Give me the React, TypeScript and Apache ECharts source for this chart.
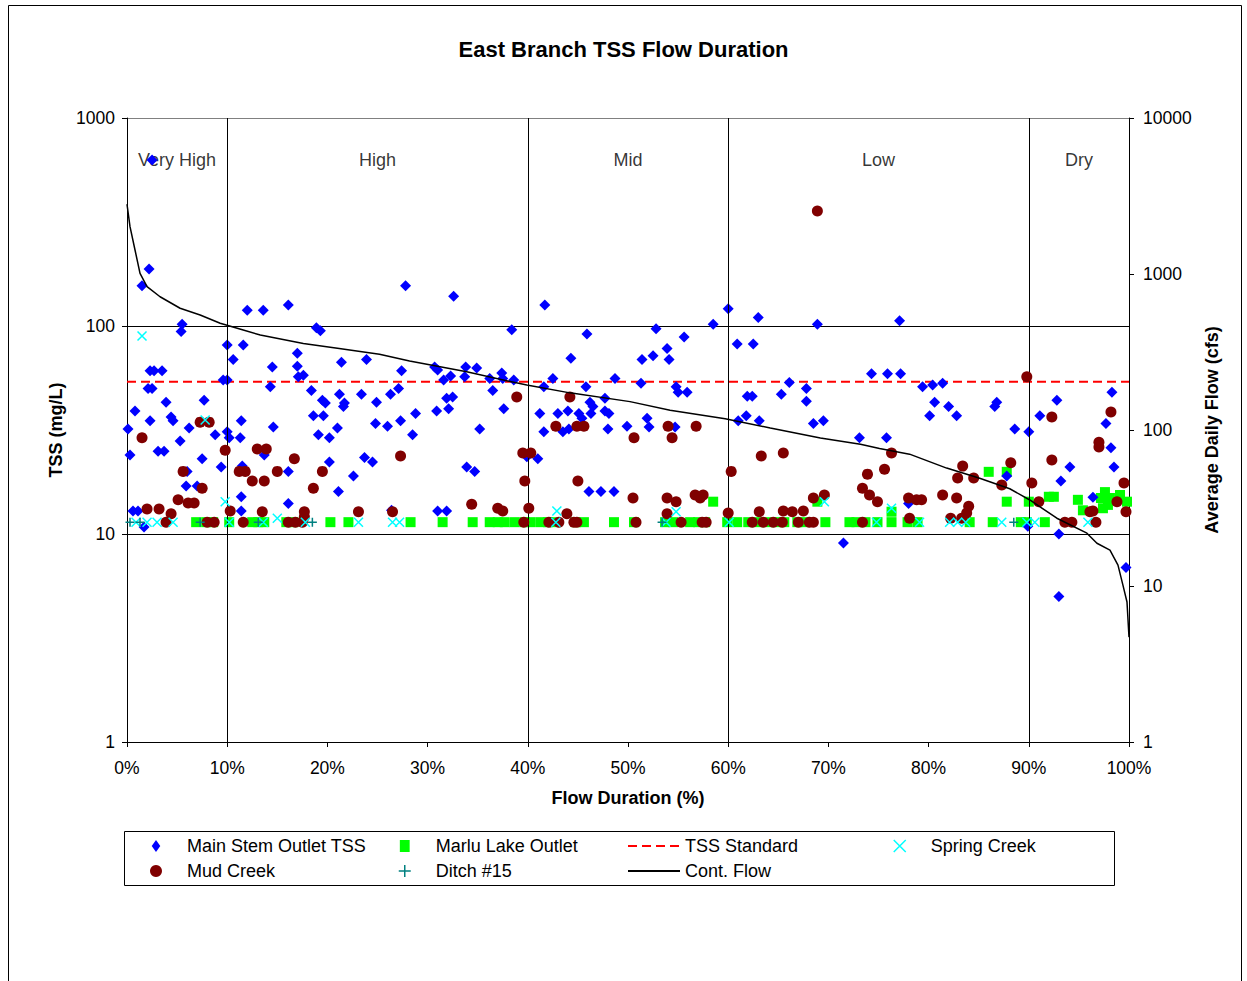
import React, { useEffect, useRef } from "react";
import * as echarts from "echarts";

const FONT = "'Liberation Sans', Arial, Helvetica, sans-serif";

// Flow regime zones (percent of time flow is exceeded)
const zoneNames = ["Very High", "High", "Mid", "Low", "Dry"];
const zoneCenters = [5, 25, 50, 75, 95];
const zoneBreaks = [10, 40, 60, 90];
const zoneLabelLevel = 630;

// TSS water quality standard, mg/L
const tssStandard = 54;

// [flow duration %, TSS mg/L]
const mainStemTss: number[][] = [
  [2.5, 628], [2.2, 188], [1.5, 156], [5.5, 102], [5.4, 94], [12.0, 119], [13.6, 119], [16.1, 126], [18.9, 98], [19.3, 95], [27.8, 156],
  [10.0, 81], [11.6, 81], [10.6, 69], [14.5, 63.5], [17.0, 74], [17.0, 64], [17.1, 57], [17.6, 58], [21.4, 67], [23.9, 69],
  [2.3, 61], [2.7, 61], [3.5, 61], [9.6, 55], [10.0, 55], [2.1, 50], [2.5, 50], [14.3, 51], [18.4, 49], [3.9, 43], [7.7, 44], [0.8, 39],
  [19.5, 44], [19.8, 42.6], [21.2, 47], [23.4, 47], [21.6, 41], [21.7, 42.6], [24.9, 43], [4.4, 36.5], [4.6, 35], [2.3, 35], [0.1, 32],
  [6.2, 32.3], [11.4, 35], [14.6, 32.7], [18.6, 37], [19.6, 37], [24.8, 34], [8.8, 30], [10.0, 31], [10.2, 29], [11.3, 29], [19.1, 30],
  [20.2, 29], [21.0, 32.3], [5.3, 28], [0.3, 24], [3.1, 25], [3.7, 25], [7.5, 23], [13.7, 24], [9.4, 21], [11.5, 21.2], [6.0, 20],
  [16.1, 20], [20.2, 22.2], [23.7, 23.3], [24.5, 22.2], [22.6, 19], [5.9, 17], [7.0, 17], [21.1, 16], [11.4, 15.1], [16.1, 14],
  [0.6, 12.9], [1.1, 12.9], [11.4, 12.9], [1.7, 10.8],
  [32.6, 139], [41.7, 126], [38.4, 96], [45.9, 91.5], [44.3, 70], [27.4, 61], [30.7, 63.5], [31.0, 61.4], [33.8, 63.5], [34.9, 62.8],
  [33.7, 57], [31.6, 55], [32.3, 57.5], [36.2, 56], [37.4, 59.4], [37.5, 56], [38.6, 55], [42.5, 56], [48.7, 56], [27.1, 50], [26.3, 47],
  [36.5, 49], [41.6, 51], [45.8, 51], [31.9, 45], [32.5, 45.6], [32.1, 40], [30.9, 39], [28.8, 38], [37.6, 40], [41.2, 38], [43.0, 38],
  [44.0, 39], [45.1, 38], [45.4, 36], [46.2, 43], [46.5, 41], [46.3, 38], [47.7, 45], [47.7, 39], [48.1, 38], [27.3, 35], [26.0, 33],
  [28.5, 30], [35.2, 32], [41.6, 31], [43.5, 31], [44.1, 32], [48.0, 32], [49.9, 33], [33.9, 21], [34.7, 20], [39.9, 23.5], [41.0, 23],
  [46.1, 16], [47.3, 16], [48.6, 16], [26.4, 13], [31.0, 12.9], [31.9, 12.9],
  [60.0, 121], [63.0, 110], [58.5, 102], [68.9, 102], [52.8, 97], [55.6, 88.5], [60.9, 82], [62.5, 82], [53.9, 78], [52.5, 72],
  [51.4, 69], [54.1, 69], [51.3, 53], [54.8, 51], [55.0, 48], [55.9, 48], [66.1, 53.5], [65.3, 47], [61.9, 46], [62.4, 46], [67.8, 50],
  [67.8, 43.5], [74.3, 59], [61.8, 37], [61.0, 35], [63.1, 35], [68.5, 34], [69.5, 35], [51.9, 36], [52.1, 32.7], [54.7, 32.7],
  [73.1, 29], [71.5, 9.05],
  [77.1, 106], [75.9, 59], [77.2, 59], [79.4, 51], [80.4, 52], [81.4, 53], [80.6, 43], [82.0, 41], [80.1, 37], [82.8, 37], [86.6, 41],
  [86.8, 43], [75.8, 29], [88.6, 32], [90.0, 31], [91.1, 37], [92.8, 44], [98.3, 48], [97.7, 34], [98.2, 26], [98.5, 21], [94.1, 21],
  [93.2, 18], [78.0, 14], [96.4, 15], [87.8, 19], [89.9, 10.9], [93.0, 10], [93.0, 5], [99.7, 6.9],
];

const mudCreek: number[][] = [
  [68.9, 357], [1.5, 29], [7.3, 34.5], [8.2, 34.5], [9.8, 25.3], [13.0, 25.6], [13.9, 25.6], [16.7, 23], [5.6, 20], [11.2, 20],
  [11.8, 20], [12.5, 18], [13.7, 18], [15.0, 20], [19.5, 20], [7.5, 16.6], [18.6, 16.6], [5.1, 14.6], [6.1, 14.1], [6.7, 14.1],
  [2.0, 13.2], [3.2, 13.2], [4.4, 12.5], [3.9, 11.4], [10.3, 12.9], [13.5, 12.8], [17.7, 12.8], [17.7, 12.1], [23.1, 12.8], [8.0, 11.4],
  [8.7, 11.4], [11.6, 11.4], [16.1, 11.4], [16.8, 11.4], [17.5, 11.4], [27.3, 23.7], [26.5, 12.8], [38.9, 45.6], [44.2, 45.6],
  [42.8, 33], [44.9, 33], [45.6, 33], [39.5, 24.5], [40.3, 24.5], [39.7, 18], [45.0, 18], [34.4, 13.9], [37.0, 13.3], [37.5, 12.9],
  [40.1, 13.3], [43.9, 12.5], [39.6, 11.4], [42.1, 11.4], [43.1, 11.4], [44.6, 11.4], [44.9, 11.4], [50.6, 29], [50.5, 14.9],
  [50.8, 11.4], [54.0, 33], [54.4, 29], [56.8, 33], [60.3, 20], [60.0, 12.6], [53.9, 14.9], [54.8, 14.3], [53.9, 12.5], [55.3, 11.4],
  [56.7, 15.4], [57.5, 15.4], [57.2, 14.9], [57.4, 11.4], [57.8, 11.4], [63.3, 23.7], [65.5, 24.5], [63.1, 12.8], [65.5, 12.9],
  [66.4, 12.8], [67.5, 12.9], [68.5, 14.9], [69.6, 15.4], [62.4, 11.4], [63.5, 11.4], [64.5, 11.4], [65.4, 11.4], [67.0, 11.4],
  [68.1, 11.4], [68.5, 11.4], [73.4, 11.4], [73.9, 19.4], [73.4, 16.6], [74.1, 15.4], [74.9, 14.3], [76.3, 24.5], [75.6, 20.5],
  [83.4, 21.2], [82.9, 18.6], [84.5, 18.6], [88.2, 22], [87.3, 17.2], [90.3, 17.6], [81.4, 15.4], [82.8, 14.9], [78.0, 14.9],
  [78.8, 14.6], [79.3, 14.6], [84.0, 13.6], [83.8, 12.6], [83.3, 11.9], [82.2, 11.9], [78.1, 11.9], [91.0, 14.3], [89.8, 57],
  [92.3, 36.5], [98.2, 38.6], [97.0, 27.6], [97.0, 26.2], [92.3, 22.7], [98.8, 14.3], [99.5, 17.6], [99.7, 12.8], [96.1, 12.8],
  [96.4, 12.9], [96.7, 11.4], [93.6, 11.4], [94.3, 11.4],
];

const marluLakeOutlet: number[][] = [
  [6.9, 11.4], [7.9, 11.4], [8.6, 11.4], [10.2, 11.4], [12.5, 11.4], [13.1, 11.4], [13.7, 11.4], [15.9, 11.4], [16.6, 11.4],
  [20.3, 11.4], [22.1, 11.4], [28.3, 11.4], [31.5, 11.4], [34.5, 11.4], [36.2, 11.4], [37.0, 11.4], [37.7, 11.4], [38.7, 11.4],
  [39.7, 11.4], [40.3, 11.4], [41.3, 11.4], [42.0, 11.4], [42.7, 11.4], [44.8, 11.4], [45.6, 11.4], [48.6, 11.4], [50.6, 11.4],
  [53.7, 11.4], [54.5, 11.4], [56.2, 11.4], [57.0, 11.4], [57.7, 11.4], [59.9, 11.4], [60.9, 11.4], [62.0, 11.4], [62.9, 11.4],
  [63.9, 11.4], [64.8, 11.4], [65.6, 11.4], [66.9, 11.4], [67.6, 11.4], [69.7, 11.4], [72.1, 11.4], [72.8, 11.4], [73.7, 11.4],
  [74.9, 11.4], [76.3, 11.4], [77.9, 11.4], [78.9, 11.4], [84.1, 11.4], [86.4, 11.4], [89.2, 11.4], [89.8, 11.4], [91.6, 11.4],
  [58.5, 14.3], [68.9, 14.3], [76.3, 12.8], [86.0, 19.9], [87.8, 19.9], [87.8, 14.3], [90.0, 14.3], [92.0, 15.1], [92.5, 15.1],
  [94.9, 14.6], [95.4, 13.0], [97.2, 14.9], [97.6, 15.9], [97.9, 13.8], [98.1, 14.9], [97.4, 13.3], [99.1, 15.4], [99.8, 14.3],
];

const springCreek: number[][] = [
  [1.5, 89.5], [0.9, 11.4], [2.0, 11.4], [3.0, 11.4], [4.6, 11.4], [10.2, 11.4], [13.6, 11.4], [17.8, 11.4], [23.1, 11.4],
  [26.5, 11.4], [27.2, 11.4], [42.8, 11.4], [53.8, 11.4], [60.1, 11.4], [74.8, 11.4], [79.1, 11.4], [82.1, 11.4], [82.9, 11.4],
  [83.7, 11.4], [87.3, 11.4], [89.8, 11.4], [90.6, 11.4], [95.9, 11.4], [7.8, 35.3], [9.8, 14.3], [15.0, 11.9], [42.9, 12.9],
  [54.8, 12.8], [69.6, 14.3], [76.3, 13.3],
];

const ditch15: number[][] = [
  [0.3, 11.4], [1.3, 11.4], [7.3, 11.4], [13.1, 11.4], [18.5, 11.4], [53.4, 11.4], [88.5, 11.4],
];

// [flow duration %, average daily flow cfs]
const contFlow: number[][] = [
  [0, 2800], [0.3, 2010], [0.8, 1425], [1.3, 1010], [2.0, 829], [3.3, 715], [5.3, 603], [7.3, 546], [9.3, 483], [11.6, 437],
  [13.3, 406], [17.6, 359], [21.0, 334], [25.2, 306], [28.2, 277], [33.9, 236], [39.9, 194], [44.2, 173], [50.2, 152], [54.2, 134],
  [59.7, 118], [64.2, 103], [69.2, 89], [73.2, 81], [75.1, 76], [78.1, 70], [81.8, 57], [85.1, 49], [88.1, 42], [90.1, 35.6],
  [92.8, 27.2], [95.8, 21.8], [96.8, 18.8], [98.1, 17], [98.9, 13.6], [99.4, 10.1], [99.8, 7.9], [100, 4.7],
];

const xMark = "path://M0,0L10,10M10,0L0,10";
const plusMark = "path://M5,0L5,10M0,5L10,5";
// legend-only shapes, kept at their own aspect ratio inside the icon box
const diamondIcon = "path://M5,0L10,7L5,14L0,7Z";
const squareIcon = "path://M0,0L9,0L9,11L0,11Z";

const legendText = { fontFamily: FONT, fontSize: 18, color: "#000" };
// line entries show the stroke only, without a marker in the middle
const hiddenMarker = { opacity: 0, borderWidth: 0 };

function makeLegend(left: number, data: any[]) {
  return {
    orient: "vertical",
    left,
    top: 832,
    itemGap: 7,
    itemWidth: 52,
    itemHeight: 12,
    symbolKeepAspect: true,
    selectedMode: false,
    textStyle: legendText,
    data,
  };
}

const plainNumber = (v: number) => String(v);

export default function App() {
  const ref = useRef<HTMLDivElement>(null);

  useEffect(() => {
    if (!ref.current) return;
    const chart = echarts.init(ref.current, undefined, { renderer: "svg" });

    const axisLabelStyle = { fontFamily: FONT, fontSize: 17.5, color: "#000" };
    const nameStyle = { fontFamily: FONT, fontSize: 18, fontWeight: "bold", color: "#000" };

    chart.setOption({
      animation: false,
      backgroundColor: "#fff",
      textStyle: { fontFamily: FONT },
      title: {
        text: "East Branch TSS Flow Duration",
        left: "center",
        top: 33,
        textStyle: { fontFamily: FONT, fontSize: 22, fontWeight: "bold", color: "#000" },
      },
      grid: { left: 127, right: 118, top: 118, bottom: 239 },
      legend: [
        makeLegend(145, [
          { name: "Main Stem Outlet TSS", icon: diamondIcon },
          { name: "Mud Creek", icon: "circle" },
        ]),
        makeLegend(393, [
          { name: "Marlu Lake Outlet", icon: squareIcon },
          { name: "Ditch #15", itemStyle: { borderWidth: 1.5 } },
        ]),
        makeLegend(622, [
          { name: "TSS Standard", itemStyle: hiddenMarker },
          { name: "Cont. Flow", itemStyle: hiddenMarker },
        ]),
        makeLegend(888, [{ name: "Spring Creek", itemStyle: { borderWidth: 1.5 } }]),
      ],
      xAxis: {
        type: "value",
        min: 0,
        max: 100,
        interval: 10,
        name: "Flow Duration (%)",
        nameLocation: "middle",
        nameGap: 47,
        nameTextStyle: nameStyle,
        axisLine: { show: true, lineStyle: { color: "#000", width: 1 } },
        axisTick: { show: true, length: 5, lineStyle: { color: "#000" } },
        axisLabel: { ...axisLabelStyle, margin: 17, formatter: "{value}%" },
        splitLine: { show: false },
      },
      yAxis: [
        {
          type: "log",
          logBase: 10,
          min: 1,
          max: 1000,
          name: "TSS (mg/L)",
          nameLocation: "middle",
          nameRotate: 90,
          nameGap: 61,
          nameTextStyle: nameStyle,
          axisLine: { show: true, lineStyle: { color: "#000", width: 1 } },
          axisTick: { show: true, length: 5, lineStyle: { color: "#000" } },
          axisLabel: { ...axisLabelStyle, margin: 12, formatter: plainNumber },
          minorTick: { show: false },
          splitLine: { show: true, lineStyle: { color: ["#000", "#000", "#000", "#808080"], width: 1 } },
        },
        {
          type: "log",
          logBase: 10,
          min: 1,
          max: 10000,
          position: "right",
          name: "Average Daily Flow (cfs)",
          nameLocation: "middle",
          nameRotate: 90,
          nameGap: 61,
          nameTextStyle: nameStyle,
          axisLine: { show: true, lineStyle: { color: "#000", width: 1 } },
          axisTick: { show: true, length: 5, lineStyle: { color: "#000" } },
          axisLabel: { ...axisLabelStyle, margin: 14, formatter: plainNumber },
          splitLine: { show: false },
        },
      ],
      series: [
        {
          name: "zones",
          type: "scatter",
          silent: true,
          symbolSize: 1,
          itemStyle: { color: "rgba(0,0,0,0)" },
          data: zoneNames.map((n, i) => ({ name: n, value: [zoneCenters[i], zoneLabelLevel] })),
          label: {
            show: true,
            position: "inside",
            formatter: "{b}",
            fontFamily: FONT,
            fontSize: 18,
            color: "#000",
          },
          markLine: {
            silent: true,
            symbol: ["none", "none"],
            label: { show: false },
            lineStyle: { color: "#000", type: "solid", width: 1 },
            data: zoneBreaks.map((v) => ({ xAxis: v })),
          },
          z: 1,
        },
        {
          name: "Marlu Lake Outlet",
          type: "scatter",
          symbol: "rect",
          symbolSize: 10,
          itemStyle: { color: "#00FF00", opacity: 1 },
          data: marluLakeOutlet,
          z: 2,
        },
        {
          name: "TSS Standard",
          type: "line",
          symbol: "none",
          data: [[0, tssStandard], [100, tssStandard]],
          lineStyle: { color: "#FF0000", width: 2, type: [9, 5] },
          itemStyle: { color: "#FF0000" },
          z: 3,
        },
        {
          name: "Main Stem Outlet TSS",
          type: "scatter",
          symbol: "diamond",
          symbolSize: 11,
          itemStyle: { color: "#0000FF", opacity: 1 },
          data: mainStemTss,
          z: 4,
        },
        {
          name: "Mud Creek",
          type: "scatter",
          symbol: "circle",
          symbolSize: 11,
          itemStyle: { color: "#800000", opacity: 1 },
          data: mudCreek,
          z: 5,
        },
        {
          name: "Spring Creek",
          type: "scatter",
          symbol: xMark,
          symbolSize: 9,
          itemStyle: { color: "#00FFFF", borderColor: "#00FFFF", borderWidth: 1.5, opacity: 1 },
          data: springCreek,
          z: 6,
        },
        {
          name: "Ditch #15",
          type: "scatter",
          symbol: plusMark,
          symbolSize: 9,
          itemStyle: { color: "#008080", borderColor: "#008080", borderWidth: 1.5, opacity: 1 },
          data: ditch15,
          z: 6,
        },
        {
          name: "Cont. Flow",
          type: "line",
          yAxisIndex: 1,
          symbol: "none",
          data: contFlow,
          lineStyle: { color: "#000", width: 1.5 },
          itemStyle: { color: "#000" },
          z: 7,
        },
      ],
      graphic: [
        {
          type: "rect",
          silent: true,
          shape: { x: 8.5, y: 5.5, width: 1233, height: 1000 },
          style: { fill: "none", stroke: "#000", lineWidth: 1 },
        },
        {
          type: "rect",
          silent: true,
          shape: { x: 124.5, y: 831.5, width: 990, height: 54 },
          style: { fill: "none", stroke: "#000", lineWidth: 1 },
        },
      ],
    });

    return () => chart.dispose();
  }, []);

  return (
    <div
      ref={ref}
      style={{ position: "absolute", left: 0, top: 0, width: 1247, height: 981 }}
    />
  );
}
